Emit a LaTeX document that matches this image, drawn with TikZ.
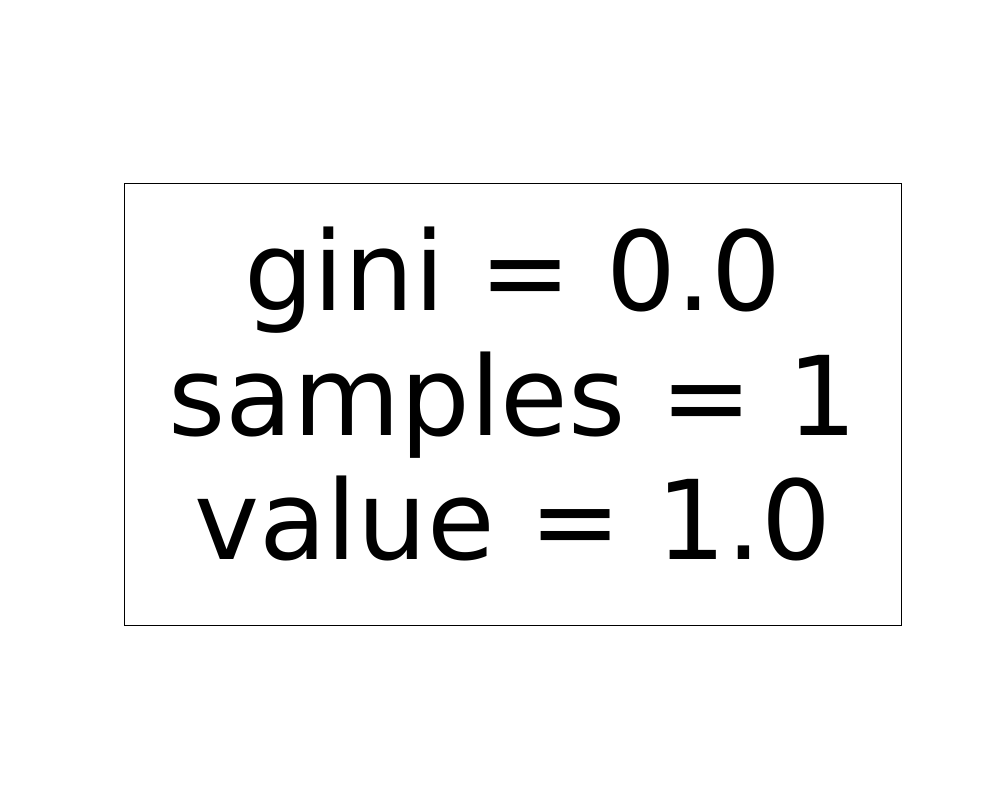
\documentclass[tikz,border=0pt]{standalone}
\usepackage{fontspec}
\setmainfont{DejaVu Sans}
\begin{document}
\begin{tikzpicture}[x=1cm,y=1cm,
  leafbox/.style={draw=black, line width=0.25pt, fill=white, minimum width=7.77cm, minimum height=4.42cm, align=center, inner sep=0pt},
  leaftext/.style={align=center, inner sep=0pt, font=\fontsize{31.3}{35.3}\selectfont}]
\useasboundingbox (0,0) rectangle (10,8);
\node[leafbox] (leaf) at (5.125,3.96) {};
\node[leaftext] (label) at (5.13,4.06) {gini = 0.0\\samples = 1\\value = 1.0};
\end{tikzpicture}
\end{document}
